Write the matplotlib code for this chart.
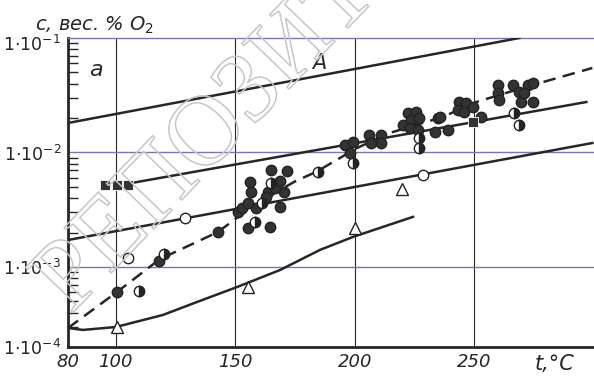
import matplotlib
matplotlib.use("Agg")
import matplotlib.pyplot as plt
from matplotlib.textpath import TextPath
from matplotlib.patches import PathPatch
from matplotlib.font_manager import FontProperties
from matplotlib.transforms import Affine2D, ScaledTranslation
from matplotlib.ticker import LogLocator, NullFormatter

plt.rcParams['mathtext.default'] = 'it'
plt.rcParams['font.family'] = ['DejaVu Sans']

# --- data: t in degC, c in wt.% O2 ---
# straight lines (log-linear)
line_top_t = [80, 268.8]
line_top_c = [0.0181, 0.1]
line_mid_t = [106.7, 296.8]
line_mid_c = [5.42e-3, 2.76e-2]
line_low_t = [80, 299.3]
line_low_c = [1.72e-3, 1.21e-2]

# lower curve through triangles
curve_t = [80, 86.3, 100, 119.7, 133.9, 150.7, 168.7, 185.4, 199.2, 224.3]
curve_c = [2.93e-4, 2.82e-4, 2.99e-4, 3.81e-4, 4.94e-4, 6.68e-4, 9.41e-4,
           1.41e-3, 1.83e-3, 2.74e-3]

# dashed curve through filled points
dash_t = [80, 100.5, 118.4, 142.7, 150.6, 162, 175, 184, 200.7,
          214.5, 236.6, 250.8, 270, 299.3]
dash_c = [2.93e-4, 6.05e-4, 1.17e-3, 2.02e-3, 2.68e-3, 3.9e-3, 5.6e-3,
          6.8e-3, 1.09e-2, 1.48e-2, 2.04e-2, 2.76e-2, 3.66e-2, 5.47e-2]

filled_t = [142.8, 155.3, 164.4, 100.3, 118.1, 151.1, 152.6, 158.8, 155.3,
            168.6, 156.0, 156.4, 163.7, 170.4, 166.5, 163.0, 165.1, 171.8,
            168.6, 195.7, 199.2, 197.8, 206.1, 211.0, 206.9, 211.0, 222.1,
            225.7, 220.1, 223.6, 227.0, 222.9, 226.3, 233.3, 234.7, 238.9,
            243.7, 246.5, 243.0, 245.8, 252.8, 259.7, 259.7, 260.2, 266.0,
            268.8, 272.3, 274.4, 269.5, 274.4, 270.9, 235.4, 249.2]
filled_c = [2.03e-3, 2.18e-3, 2.25e-3, 6.08e-4, 1.13e-3, 3.04e-3, 3.26e-3,
            3.26e-3, 3.65e-3, 3.37e-3, 5.50e-3, 4.55e-3, 4.55e-3, 4.55e-3,
            4.86e-3, 4.11e-3, 7.03e-3, 6.93e-3, 5.68e-3, 1.16e-2, 1.24e-2,
            9.84e-3, 1.42e-2, 1.42e-2, 1.20e-2, 1.20e-2, 2.20e-2, 2.27e-2,
            1.74e-2, 1.92e-2, 1.99e-2, 1.63e-2, 1.57e-2, 1.52e-2, 2.01e-2,
            1.57e-2, 2.78e-2, 2.69e-2, 2.35e-2, 2.27e-2, 2.06e-2, 3.89e-2,
            3.29e-2, 2.88e-2, 3.89e-2, 3.40e-2, 3.89e-2, 4.02e-2, 2.78e-2,
            2.78e-2, 3.29e-2, 2.06e-2, 2.51e-2]

half_t = [109.8, 120.1, 158.1, 164.8, 161.3, 184.6, 199.2, 227.0, 227.0,
          266.7, 268.8]
half_c = [6.17e-4, 1.29e-3, 2.49e-3, 5.45e-3, 3.60e-3, 6.79e-3, 8.05e-3,
          1.33e-2, 1.09e-2, 2.23e-2, 1.74e-2]

open_t = [105.2, 128.9, 228.4]
open_c = [1.20e-3, 2.66e-3, 6.35e-3]

square_t = [95.5, 100.5, 105.1, 249.3]
square_c = [5.2e-3, 5.2e-3, 5.2e-3, 1.86e-2]

tri_t = [100.5, 155.2, 199.9, 219.5]
tri_c = [2.99e-4, 6.68e-4, 2.19e-3, 4.80e-3]

xticks = [80, 100, 150, 200, 250]
yticks = [2e-4, 1e-3, 1e-2, 1e-1]
ytick_labels = [r'$1{\cdot}10^{-4}$', r'$1{\cdot}10^{-3}$',
                r'$1{\cdot}10^{-2}$', r'$1{\cdot}10^{-1}$']

ink = '#262626'
hcol = '#7a74b4'

fig = plt.figure(figsize=(5.94, 3.76), dpi=100)
ax = fig.add_axes([68 / 594, 1 - 347 / 376, 1 - 68 / 594, (347 - 38) / 376])
ax.set_yscale('log')
ax.set_xlim(80, 300)
ax.set_ylim(2e-4, 0.1)

# grid
for xv in xticks[1:]:
    ax.axvline(xv, color=ink, lw=0.8, zorder=1)
for yv in [1e-3, 1e-2]:
    ax.axhline(yv, color=hcol, lw=1.0, zorder=1)

# curves
ax.plot(line_top_t, line_top_c, color=ink, lw=1.8, zorder=3)
ax.plot(line_mid_t, line_mid_c, color=ink, lw=1.8, zorder=3)
ax.plot(line_low_t, line_low_c, color=ink, lw=1.8, zorder=3)
ax.plot(curve_t, curve_c, color=ink, lw=1.8, zorder=3)
ax.plot(dash_t, dash_c, color=ink, lw=1.8, dashes=(5, 3), zorder=3)

# points
ax.plot(filled_t, filled_c, 'o', ms=7.5, color='#333333', mec='#222222',
        ls='none', zorder=4)
ax.plot(half_t, half_c, 'o', ms=7.5, fillstyle='right', mfc='#222222',
        markerfacecoloralt='white', mec='#222222', mew=1.0, ls='none', zorder=5)
ax.plot(open_t, open_c, 'o', ms=7.5, mfc='white', mec='#222222', mew=1.0,
        ls='none', zorder=5)
ax.plot(square_t, square_c, 's', ms=6.8, mfc='#333333', mec='white', mew=0.6,
        ls='none', zorder=4)
ax.plot(tri_t, tri_c, '^', ms=9, mfc='white', mec='#222222', mew=1.0,
        ls='none', zorder=5)

# axes styling
ax.spines['right'].set_visible(False)
ax.spines['top'].set_color(hcol)
ax.spines['top'].set_linewidth(1.0)
ax.spines['left'].set_linewidth(2.0)
ax.spines['bottom'].set_linewidth(2.0)
ax.spines['left'].set_color(ink)
ax.spines['bottom'].set_color(ink)

ax.set_xticks(xticks)
ax.set_xticklabels([str(v) for v in xticks], fontstyle='italic', fontsize=13,
                   color=ink)
ax.set_yticks(yticks)
ax.set_yticklabels(ytick_labels, fontsize=12.5, color=ink)
ax.yaxis.set_minor_locator(LogLocator(base=10, subs=range(2, 10)))
ax.yaxis.set_minor_formatter(NullFormatter())
ax.tick_params(axis='y', which='major', length=0, pad=5)
ax.tick_params(axis='y', which='minor', direction='in', length=7, width=1.0,
               color=ink)
ax.tick_params(axis='x', which='major', length=0, pad=4)
# top label sits a little lower than its line in the scan
top_lbl = ax.get_yticklabels()[-1]
top_lbl.set_transform(top_lbl.get_transform() +
                      ScaledTranslation(0, -5 / 100, fig.dpi_scale_trans))

ax.text(89, 0.047, 'a', fontsize=16, fontstyle='italic', color=ink)
ax.text(182, 0.054, 'A', fontsize=15, fontstyle='italic', color=ink)
fig.text(35 / 594, 1 - 31 / 376, 'c, вес. % O$_2$', fontsize=14,
         fontstyle='italic', color=ink)
fig.text(535 / 594, 1 - 370 / 376, 't,°C', fontsize=15, fontstyle='italic',
         color=ink)

# scan watermark
fp = FontProperties(family='Liberation Serif')
tp = TextPath((0, 0), 'РЕПОЗИТ', size=72, prop=fp)
bb = tp.get_extents()
tr = (Affine2D().translate(-(bb.x0 + bb.x1) / 2, -(bb.y0 + bb.y1) / 2)
      .scale(1 / 72).rotate_deg(46).translate(2.02, 3.76 - 1.32)
      + fig.dpi_scale_trans)
wm = PathPatch(tp, transform=tr, facecolor='none', edgecolor='#c6c6c6',
               lw=1.1, zorder=2)
fig.add_artist(wm)

fig.savefig('out.png', dpi=100)
